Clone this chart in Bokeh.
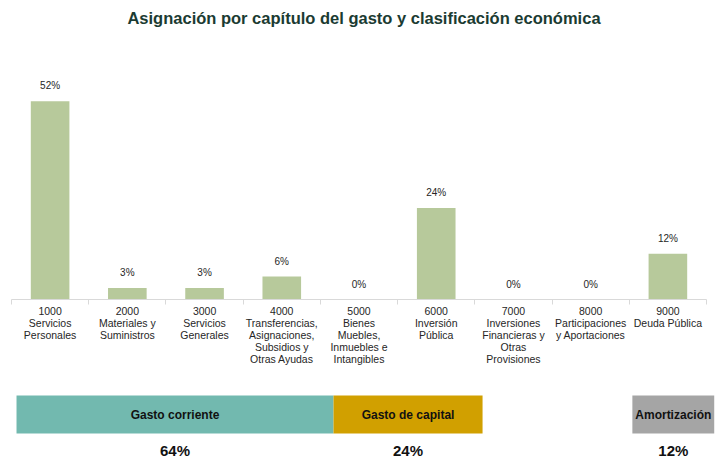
from bokeh.plotting import figure
from bokeh.models import (Range1d, LinearAxis, FixedTicker, ColumnDataSource, Title)
from bokeh.layouts import column
from bokeh.embed import file_html
from bokeh.resources import INLINE
from bokeh.core.properties import value

# ---------------- data ----------------
capitulos = [
    "1000\nServicios\nPersonales",
    "2000\nMateriales y\nSuministros",
    "3000\nServicios\nGenerales",
    "4000\nTransferencias,\nAsignaciones,\nSubsidios y\nOtras Ayudas",
    "5000\nBienes\nMuebles,\nInmuebles e\nIntangibles",
    "6000\nInversión\nPública",
    "7000\nInversiones\nFinancieras y\nOtras\nProvisiones",
    "8000\nParticipaciones\ny Aportaciones",
    "9000\nDeuda Pública",
]
porcentajes = [52, 3, 3, 6, 0, 24, 0, 0, 12]

grupos = ["Gasto corriente", "Gasto de capital", "Amortización"]
grupo_pct = [64, 24, 12]
grupo_colores = ["#72b9af", "#d1a000", "#a5a5a5"]
# spans of each group band, in chapter-slot units
grupo_desde = [0.065, 4.17, 8.04]
grupo_hasta = [4.17, 6.10, 9.10]

FONT = "Liberation Sans"
W = 716
LEFT, RIGHT = 11, 10
n = len(capitulos)
centros_cap = [i + 0.5 for i in range(n)]
unit = (W - LEFT - RIGHT) / n
x_end = n + RIGHT / unit

# ---------------- main chart ----------------
src = ColumnDataSource(dict(x=centros_cap, pct=porcentajes,
                            lbl=[f"{v}%" for v in porcentajes]))

p = figure(width=W, height=385, x_range=Range1d(0, x_end),
           y_range=Range1d(0, 70), output_backend="svg", toolbar_location=None,
           x_axis_location=None, y_axis_location=None,
           min_border_left=LEFT, min_border_right=0, min_border_top=0,
           min_border_bottom=86, outline_line_color=None)
p.grid.grid_line_color = None
p.title = Title(text="Asignación por capítulo del gasto y clasificación económica",
                align="center", offset=2, text_font=FONT, text_font_size="16.5px",
                text_font_style="bold", text_color="#1b3b32", standoff=12)

ax_num = LinearAxis(ticker=FixedTicker(ticks=list(range(n + 1))), bounds=(0, n),
                    axis_line_color="#d9d9d9", major_tick_line_color="#d9d9d9",
                    major_tick_out=5, major_tick_in=0, minor_tick_line_color=None,
                    major_label_text_font_size="0px", major_label_standoff=0)
p.add_layout(ax_num, "below")
ax_cat = LinearAxis(ticker=FixedTicker(ticks=centros_cap),
                    major_label_overrides={c: lab for c, lab in zip(centros_cap, capitulos)},
                    axis_line_color=None, major_tick_line_color=None,
                    minor_tick_line_color=None,
                    major_label_text_font=FONT, major_label_text_font_size="10.5px",
                    major_label_text_line_height=1.0,
                    major_label_text_color="#262626", major_label_standoff=-6)
p.add_layout(ax_cat, "below")

p.vbar(x="x", top="pct", width=0.5, source=src, fill_color="#b7c99b", line_color=None)
p.text(x="x", y="pct", text="lbl", source=src, y_offset=-10, text_align="center",
       text_baseline="bottom", text_font=value(FONT), text_font_size="10px",
       text_color="#262626")

# ---------------- bottom band ----------------
b = figure(width=W, height=75, x_range=Range1d(0, x_end),
           y_range=Range1d(75, 0), output_backend="svg", toolbar_location=None,
           x_axis_location=None, y_axis_location=None,
           min_border_left=LEFT, min_border_right=0, min_border_top=0, min_border_bottom=0,
           outline_line_color=None)
b.grid.grid_line_color = None
centros = [(a + c) / 2 for a, c in zip(grupo_desde, grupo_hasta)]
gsrc = ColumnDataSource(dict(x0=grupo_desde, x1=grupo_hasta, c=grupo_colores,
                             xc=centros, g=grupos,
                             pl=[f"{v}%" for v in grupo_pct]))
b.quad(left="x0", right="x1", top=10, bottom=48, fill_color="c", line_color=None, source=gsrc)
b.text(x="xc", y=29, text="g", source=gsrc, text_align="center", text_baseline="middle",
       text_font=value(FONT), text_font_size="12px", text_font_style="bold",
       text_color="#111111")
b.text(x="xc", y=65, text="pl", source=gsrc, text_align="center", text_baseline="middle",
       text_font=value(FONT), text_font_size="15px", text_font_style="bold",
       text_color="#111111")

layout = column(p, b, spacing=0)
open("out.html", "w").write(file_html(layout, INLINE))
